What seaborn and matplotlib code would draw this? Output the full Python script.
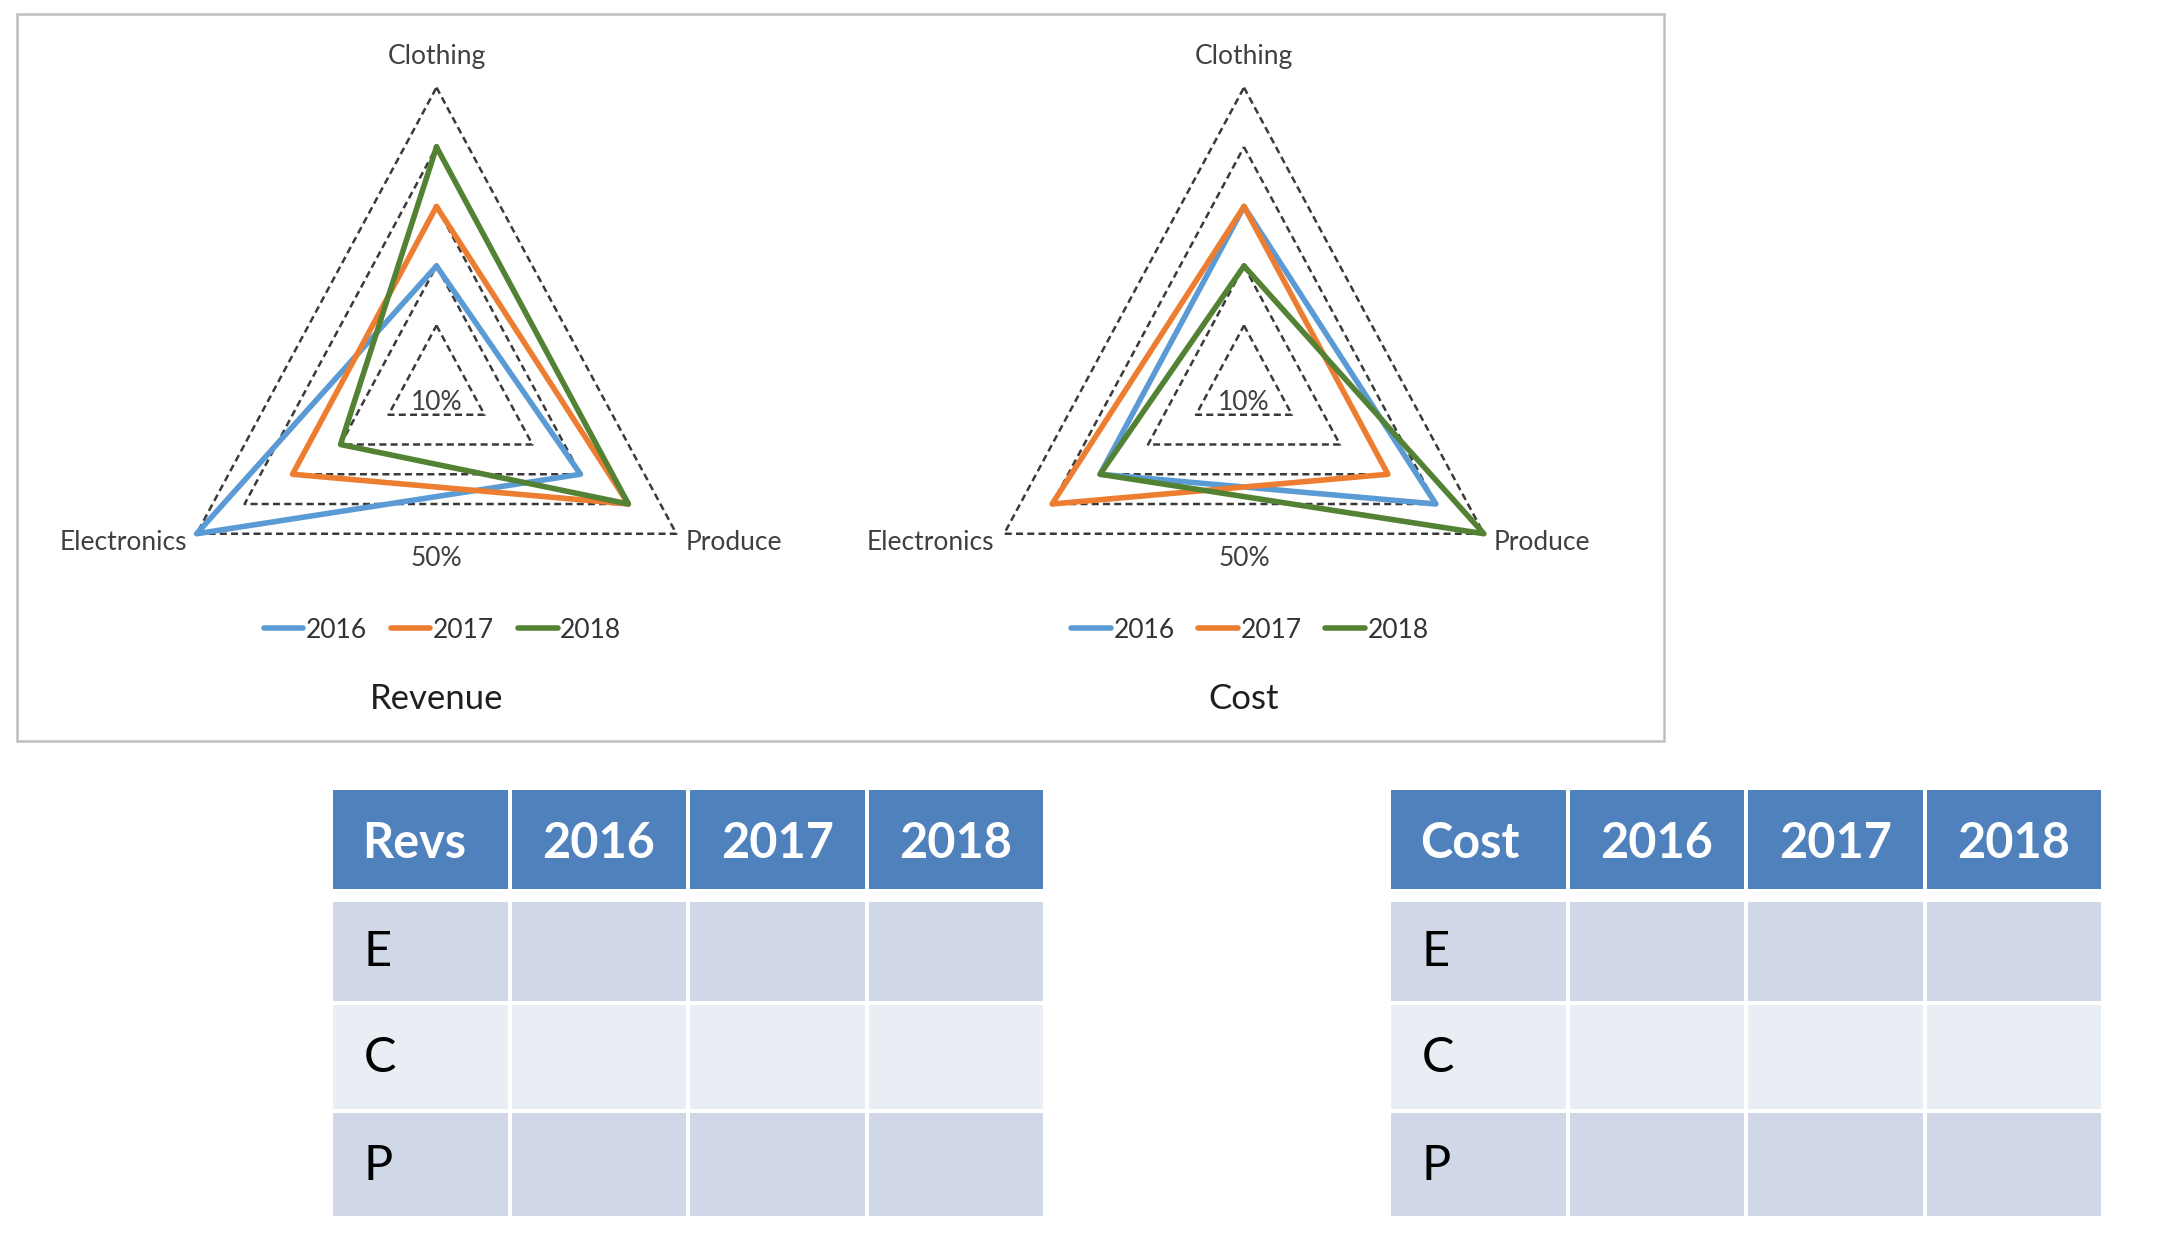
import numpy as np
import pandas as pd
import matplotlib.pyplot as plt
import seaborn as sns
from matplotlib.patches import Rectangle

sns.set_theme(style='white')
plt.rcParams['font.family'] = ['Lato', 'DejaVu Sans']

# ── data (order: Clothing, Produce, Electronics) ─────────
categories = ['Clothing', 'Produce', 'Electronics']
years = ['2016', '2017', '2018']
rev_2016 = [20, 30, 50]
rev_2017 = [30, 40, 30]
rev_2018 = [40, 40, 20]
cost_2016 = [30, 40, 30]
cost_2017 = [30, 30, 40]
cost_2018 = [20, 50, 30]
ring_levels = [10, 20, 30, 40, 50]
row_labels = ['E', 'C', 'P']

colors = ['#5B9BD5', '#ED7D31', '#548235']
W, H = 2158, 1255

fig = plt.figure(figsize=(W / 100, H / 100), dpi=100)
fig.patch.set_facecolor('white')


def px_axes(x0, y0, x1, y1):
    return fig.add_axes([x0 / W, 1 - y1 / H, (x1 - x0) / W, (y1 - y0) / H])


angles = np.radians([0, 120, 240])


def to_xy(values):
    r = np.asarray(values, dtype=float)
    return r * np.sin(angles), r * np.cos(angles)


# outer frame around the two radar charts
fig.add_artist(Rectangle((17 / W, 1 - 741 / H), (1664 - 17) / W, (741 - 14) / H,
                         transform=fig.transFigure, fill=False,
                         edgecolor='#BFBFBF', lw=1.8))

# ── radar charts ──────────────────────────────────────────
sx, sy = 5.54, 5.95      # px per percent unit
cy = 385


def radar(cx, series, title):
    ax = px_axes(cx - 400, 20, cx + 400, 735)
    ax.set_xlim(-400 / sx, 400 / sx)
    ax.set_ylim((cy - 735) / sy, (cy - 20) / sy)
    ax.axis('off')

    for lv in ring_levels:
        gx, gy = to_xy([lv] * 3)
        ax.plot(np.append(gx, gx[0]), np.append(gy, gy[0]), color='#3A3A3A',
                lw=1.8, ls=(0, (2.8, 1.7)), zorder=1)

    rows = []
    for yr, vals in zip(years, series):
        x, y = to_xy(vals)
        for i in [0, 1, 2, 0]:
            rows.append({'X': x[i], 'Y': y[i], 'year': yr})
    df = pd.DataFrame(rows)
    sns.lineplot(data=df, x='X', y='Y', hue='year', hue_order=years,
                 palette=colors, sort=False, estimator=None, lw=4.0, ax=ax,
                 zorder=3)

    # category labels
    vx, vy = to_xy([50] * 3)
    lab = dict(fontsize=19, color='#404040')
    ax.annotate(categories[0], (vx[0], vy[0]), xytext=(0, 22),
                textcoords='offset points', ha='center', va='center', **lab)
    ax.annotate(categories[1], (vx[1], vy[1]), xytext=(7, -6),
                textcoords='offset points', ha='left', va='center', **lab)
    ax.annotate(categories[2], (vx[2], vy[2]), xytext=(-7, -6),
                textcoords='offset points', ha='right', va='center', **lab)

    # axis value labels
    ax.text(0, -17 / sy, f'{ring_levels[0]}%', ha='center', va='center', **lab)
    ax.text(0, (cy - 558) / sy, f'{ring_levels[-1]}%', ha='center', va='center', **lab)

    handles, labels = ax.get_legend_handles_labels()
    ax.legend(handles, labels, loc='center', ncol=3, frameon=False,
              bbox_to_anchor=((cx + 6) / W, 1 - 630 / H),
              bbox_transform=fig.transFigure, fontsize=19,
              handlelength=1.5, handletextpad=0.1, columnspacing=0.9,
              labelcolor='#333333')
    fig.text(cx / W, 1 - 699 / H, title, ha='center', va='center',
             fontsize=25, color='#1F1F1F')


radar(436.5, [rev_2016, rev_2017, rev_2018], 'Revenue')
radar(1244, [cost_2016, cost_2017, cost_2018], 'Cost')

# ── tables ────────────────────────────────────────────────
col_edges = [(0, 175), (179, 353), (357, 532), (536, 710)]
row_edges = [(0, 99), (112, 211), (215, 319), (323, 426)]
row_fill = ['#D0D8E8', '#E9EDF4', '#D0D8E8']


def table(x0, head):
    ax = px_axes(x0, 790, x0 + 710, 1216)
    ax.set_xlim(0, 710)
    ax.set_ylim(426, 0)
    ax.axis('off')
    headers = [head] + years
    for j, (c0, c1) in enumerate(col_edges):
        r0, r1 = row_edges[0]
        ax.add_patch(Rectangle((c0, r0), c1 - c0, r1 - r0, color='#4F81BD', lw=0))
        if j == 0:
            ax.text(c0 + 29, (r0 + r1) / 2 + 4, headers[j], ha='left', va='center',
                    color='white', fontsize=35, fontweight='bold')
        else:
            ax.text((c0 + c1) / 2, (r0 + r1) / 2 + 4, headers[j], ha='center',
                    va='center', color='white', fontsize=35, fontweight='bold')
        for i, (r0, r1) in enumerate(row_edges[1:]):
            ax.add_patch(Rectangle((c0, r0), c1 - c0, r1 - r0,
                                   color=row_fill[i], lw=0))
            if j == 0:
                ax.text(c0 + 31, (r0 + r1) / 2 + 1, row_labels[i], ha='left',
                        va='center', color='black', fontsize=35)


table(333, 'Revs')
table(1391, 'Cost')

fig.savefig('out.png', dpi=100, facecolor='white')
